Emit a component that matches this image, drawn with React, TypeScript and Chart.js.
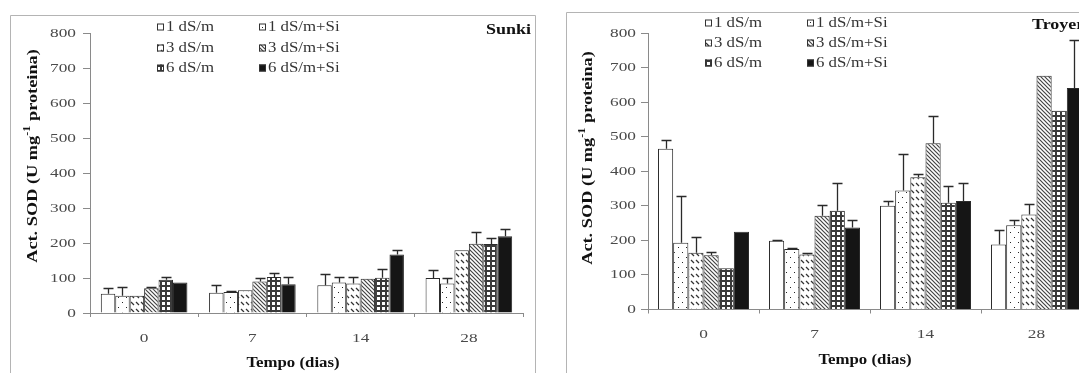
import React, { useEffect, useRef } from 'react';
import { Chart, registerables } from 'chart.js';

Chart.register(...registerables);

// Sampling days (x categories) and treatment names (one bar series each)
const days = ['0', '7', '14', '28'];
const treatments = ['1 dS/m', '1 dS/m+Si', '3 dS/m', '3 dS/m+Si', '6 dS/m', '6 dS/m+Si'];
const yMax = 800;
const yStep = 100;

// Sunki – SOD activity means
const sunki1 = [55, 58, 79, 100];
const sunki1Si = [49, 60, 87, 84];
const sunki3 = [49, 65, 84, 179];
const sunki3Si = [71, 90, 98, 198];
const sunki6 = [95, 103, 101, 197];
const sunki6Si = [87, 82, 167, 219];
// Sunki – standard errors
const sunki1Err = [16, 23, 33, 24];
const sunki1SiErr = [25, 2, 16, 16];
const sunki3Err = [0, 0, 19, 0];
const sunki3SiErr = [3, 10, 0, 33];
const sunki6Err = [8, 11, 26, 16];
const sunki6SiErr = [0, 21, 12, 21];

// Troyer – SOD activity means
const troyer1 = [465, 199, 300, 188];
const troyer1Si = [193, 175, 344, 244];
const troyer3 = [164, 159, 383, 275];
const troyer3Si = [157, 271, 481, 676];
const troyer6 = [119, 286, 309, 575];
const troyer6Si = [225, 237, 314, 641];
// Troyer – standard errors
const troyer1Err = [24, 2, 14, 42];
const troyer1SiErr = [134, 3, 105, 15];
const troyer3Err = [47, 5, 9, 29];
const troyer3SiErr = [10, 32, 79, 0];
const troyer6Err = [0, 81, 47, 0];
const troyer6SiErr = [0, 22, 51, 140];

const SERIF = '"Liberation Serif", "Times New Roman", "DejaVu Serif", serif';

type PanelCfg = {
  name: string;
  nameX: number;
  nameY: number;
  nameAlign: 'left' | 'right';
  left: number;
  width: number;
  means: number[][];
  errors: number[][];
  plotTop: number;
  plotRightPad: number;
  yAxisWidth: number;
  xAxisHeight: number;
  groupShare: number;
  yTickRight: number;
  xTickY: number;
  xTitleX: number;
  xTitleY: number;
  yTitleX: number;
  yTitleY: number;
  legendCols: number[];
  legendRows: number[];
  frame: { left: number; top: number; right?: number };
};

const sunkiPanel: PanelCfg = {
  name: 'Sunki',
  nameX: 531,
  nameY: 30,
  nameAlign: 'right',
  left: 0,
  width: 540,
  means: [sunki1, sunki1Si, sunki3, sunki3Si, sunki6, sunki6Si],
  errors: [sunki1Err, sunki1SiErr, sunki3Err, sunki3SiErr, sunki6Err, sunki6SiErr],
  plotTop: 33,
  plotRightPad: 17,
  yAxisWidth: 90,
  xAxisHeight: 60,
  groupShare: 0.8,
  yTickRight: 76,
  xTickY: 338,
  xTitleX: 293,
  xTitleY: 363,
  yTitleX: 33,
  yTitleY: 156,
  legendCols: [157, 259],
  legendRows: [27, 48, 68],
  frame: { left: 10, top: 15, right: 535 },
};

const troyerPanel: PanelCfg = {
  name: 'Troyer',
  nameX: 472,
  nameY: 25,
  nameAlign: 'left',
  left: 560,
  width: 540,
  means: [troyer1, troyer1Si, troyer3, troyer3Si, troyer6, troyer6Si],
  errors: [troyer1Err, troyer1SiErr, troyer3Err, troyer3SiErr, troyer6Err, troyer6SiErr],
  plotTop: 33,
  plotRightPad: 8,
  yAxisWidth: 88,
  xAxisHeight: 63.5,
  groupShare: 0.82,
  yTickRight: 76,
  xTickY: 334,
  xTitleX: 305,
  xTitleY: 360,
  yTitleX: 28,
  yTitleY: 158,
  legendCols: [145, 247],
  legendRows: [23, 43, 63],
  frame: { left: 6, top: 12 },
};

// Fill styles: plain, dotted, sparse dashes, dense hatch, grid, solid
function makeFills(ctx: CanvasRenderingContext2D): (string | CanvasPattern)[] {
  const tile = (w: number, h: number, paint: (g: CanvasRenderingContext2D) => void) => {
    const c = document.createElement('canvas');
    c.width = w;
    c.height = h;
    const g = c.getContext('2d')!;
    g.fillStyle = '#ffffff';
    g.fillRect(0, 0, w, h);
    paint(g);
    return ctx.createPattern(c, 'repeat')!;
  };
  const dots = tile(8, 10, (g) => {
    g.fillStyle = '#222';
    g.fillRect(2, 2, 1, 1);
    g.fillRect(6, 7, 1, 1);
  });
  const dashes = tile(5, 7, (g) => {
    g.strokeStyle = '#333';
    g.lineWidth = 1.2;
    g.beginPath();
    g.moveTo(1, 1);
    g.lineTo(4, 4);
    g.stroke();
  });
  const hatch = tile(4, 4, (g) => {
    g.strokeStyle = '#444';
    g.lineWidth = 1.2;
    g.beginPath();
    g.moveTo(-1, -1);
    g.lineTo(5, 5);
    g.moveTo(-1, 3);
    g.lineTo(1, 5);
    g.moveTo(3, -1);
    g.lineTo(5, 1);
    g.stroke();
  });
  const grid = tile(5, 5, (g) => {
    g.fillStyle = '#3a3a3a';
    g.fillRect(0, 0, 5, 2);
    g.fillRect(0, 0, 2, 5);
  });
  return ['#ffffff', dots, dashes, hatch, grid, '#151515'];
}

function drawText(
  ctx: CanvasRenderingContext2D,
  text: string,
  x: number,
  y: number,
  font: string,
  sx: number,
  align: 'left' | 'center' | 'right',
  color: string
) {
  ctx.save();
  ctx.font = font;
  ctx.fillStyle = color;
  ctx.textBaseline = 'middle';
  ctx.textAlign = 'left';
  const w = ctx.measureText(text).width * sx;
  const x0 = align === 'left' ? x : align === 'center' ? x - w / 2 : x - w;
  ctx.translate(x0, y);
  ctx.scale(sx, 1);
  ctx.fillText(text, 0, 0);
  ctx.restore();
}

function drawYTitle(ctx: CanvasRenderingContext2D, cx: number, cy: number) {
  const main = `bold 15px ${SERIF}`;
  const sup = `bold 10px ${SERIF}`;
  const parts = [
    { t: 'Act. SOD (U mg', f: main, dy: 0 },
    { t: '-1', f: sup, dy: -6 },
    { t: ' proteina)', f: main, dy: 0 },
  ];
  ctx.save();
  ctx.translate(cx, cy);
  ctx.rotate(-Math.PI / 2);
  ctx.scale(1.22, 1);
  ctx.textBaseline = 'middle';
  ctx.textAlign = 'left';
  ctx.fillStyle = '#111';
  let total = 0;
  const widths = parts.map((p) => {
    ctx.font = p.f;
    const w = ctx.measureText(p.t).width;
    total += w;
    return w;
  });
  let x = -total / 2;
  parts.forEach((p, i) => {
    ctx.font = p.f;
    ctx.fillText(p.t, x, p.dy);
    x += widths[i];
  });
  ctx.restore();
}

function panelDecor(p: PanelCfg, fills: (string | CanvasPattern)[]) {
  return {
    id: 'panelDecor',
    beforeDraw(chart: Chart) {
      const ctx = chart.ctx;
      ctx.save();
      ctx.fillStyle = '#ffffff';
      ctx.fillRect(0, 0, chart.width, chart.height);
      ctx.strokeStyle = '#b4b4b4';
      ctx.lineWidth = 1;
      ctx.beginPath();
      ctx.moveTo(p.frame.left + 0.5, chart.height);
      ctx.lineTo(p.frame.left + 0.5, p.frame.top + 0.5);
      if (p.frame.right !== undefined) {
        ctx.lineTo(p.frame.right + 0.5, p.frame.top + 0.5);
        ctx.lineTo(p.frame.right + 0.5, chart.height);
      } else {
        ctx.lineTo(chart.width, p.frame.top + 0.5);
      }
      ctx.stroke();
      ctx.restore();
    },
    afterDatasetsDraw(chart: Chart) {
      const ctx = chart.ctx;
      const yScale = chart.scales.y;
      ctx.save();
      ctx.strokeStyle = '#2a2a2a';
      ctx.lineWidth = 1.3;
      chart.data.datasets.forEach((ds, i) => {
        const meta = chart.getDatasetMeta(i);
        const errs = p.errors[i];
        meta.data.forEach((bar: any, j: number) => {
          const e = errs[j];
          if (!e) return;
          const v = ds.data[j] as number;
          const x = Math.round(bar.x) + 0.5;
          const yBar = yScale.getPixelForValue(v);
          const yTop = Math.round(yScale.getPixelForValue(v + e)) + 0.5;
          ctx.beginPath();
          ctx.moveTo(x, yBar);
          ctx.lineTo(x, yTop);
          ctx.moveTo(x - 5, yTop);
          ctx.lineTo(x + 5, yTop);
          ctx.stroke();
        });
      });
      ctx.restore();
    },
    afterDraw(chart: Chart) {
      const ctx = chart.ctx;
      const xScale = chart.scales.x;
      const yScale = chart.scales.y;
      const tickFont = `13.5px ${SERIF}`;
      // value axis labels
      yScale.ticks.forEach((t) => {
        drawText(ctx, String(t.value), p.yTickRight, yScale.getPixelForValue(t.value), tickFont, 1.28, 'right', '#4a4a4a');
      });
      // day labels
      (chart.data.labels as string[]).forEach((lab, i) => {
        drawText(ctx, lab, xScale.getPixelForTick(i), p.xTickY, tickFont, 1.28, 'center', '#4a4a4a');
      });
      // axis titles
      drawText(ctx, 'Tempo (dias)', p.xTitleX, p.xTitleY, `bold 14px ${SERIF}`, 1.2, 'center', '#111');
      drawYTitle(ctx, p.yTitleX, p.yTitleY);
      // rootstock name
      drawText(ctx, p.name, p.nameX, p.nameY, `bold 15px ${SERIF}`, 1.2, p.nameAlign, '#111');
      // legend, two columns by three rows
      treatments.forEach((name, k) => {
        const x = p.legendCols[k % 2];
        const y = p.legendRows[Math.floor(k / 2)];
        ctx.save();
        ctx.fillStyle = fills[k];
        ctx.fillRect(x, y - 3.5, 7, 7);
        ctx.strokeStyle = '#333';
        ctx.lineWidth = 1;
        ctx.strokeRect(x + 0.5, y - 3, 6, 6);
        ctx.restore();
        drawText(ctx, name, x + 9, y, `14px ${SERIF}`, 1.2, 'left', '#333');
      });
    },
  };
}

function buildConfig(p: PanelCfg, ctx: CanvasRenderingContext2D): any {
  const fills = makeFills(ctx);
  return {
    type: 'bar',
    data: {
      labels: days,
      datasets: treatments.map((label, i) => ({
        label,
        data: p.means[i],
        backgroundColor: fills[i],
        borderColor: '#2b2b2b',
        borderWidth: 1,
        categoryPercentage: p.groupShare,
        barPercentage: 1,
      })),
    },
    options: {
      responsive: false,
      animation: false,
      devicePixelRatio: 1,
      layout: { padding: { left: 0, top: p.plotTop, right: p.plotRightPad, bottom: 0 } },
      plugins: { legend: { display: false }, tooltip: { enabled: false } },
      scales: {
        x: {
          type: 'category',
          offset: true,
          ticks: { display: false },
          grid: { display: true, drawOnChartArea: false, drawTicks: true, tickLength: 4, color: '#8a8a8a' },
          border: { display: true, color: '#8a8a8a', width: 1 },
          afterFit: (s: any) => {
            s.height = p.xAxisHeight;
          },
        },
        y: {
          min: 0,
          max: yMax,
          ticks: { display: false, stepSize: yStep },
          grid: { display: true, drawOnChartArea: false, drawTicks: true, tickLength: 7, color: '#8a8a8a' },
          border: { display: true, color: '#8a8a8a', width: 1 },
          afterFit: (s: any) => {
            s.width = p.yAxisWidth;
          },
        },
      },
    },
    plugins: [panelDecor(p, fills)],
  };
}

function Panel({ cfg }: { cfg: PanelCfg }) {
  const ref = useRef<HTMLCanvasElement>(null);
  useEffect(() => {
    const canvas = ref.current!;
    const chart = new Chart(canvas, buildConfig(cfg, canvas.getContext('2d')!));
    return () => chart.destroy();
  }, [cfg]);
  return (
    <canvas
      ref={ref}
      width={cfg.width}
      height={373}
      style={{ position: 'absolute', left: cfg.left, top: 0, width: cfg.width, height: 373 }}
    />
  );
}

export default function App() {
  return (
    <div
      style={{
        position: 'fixed',
        left: 0,
        top: 0,
        width: 1079,
        height: 373,
        overflow: 'hidden',
        background: '#ffffff',
      }}
    >
      <Panel cfg={sunkiPanel} />
      <Panel cfg={troyerPanel} />
    </div>
  );
}
